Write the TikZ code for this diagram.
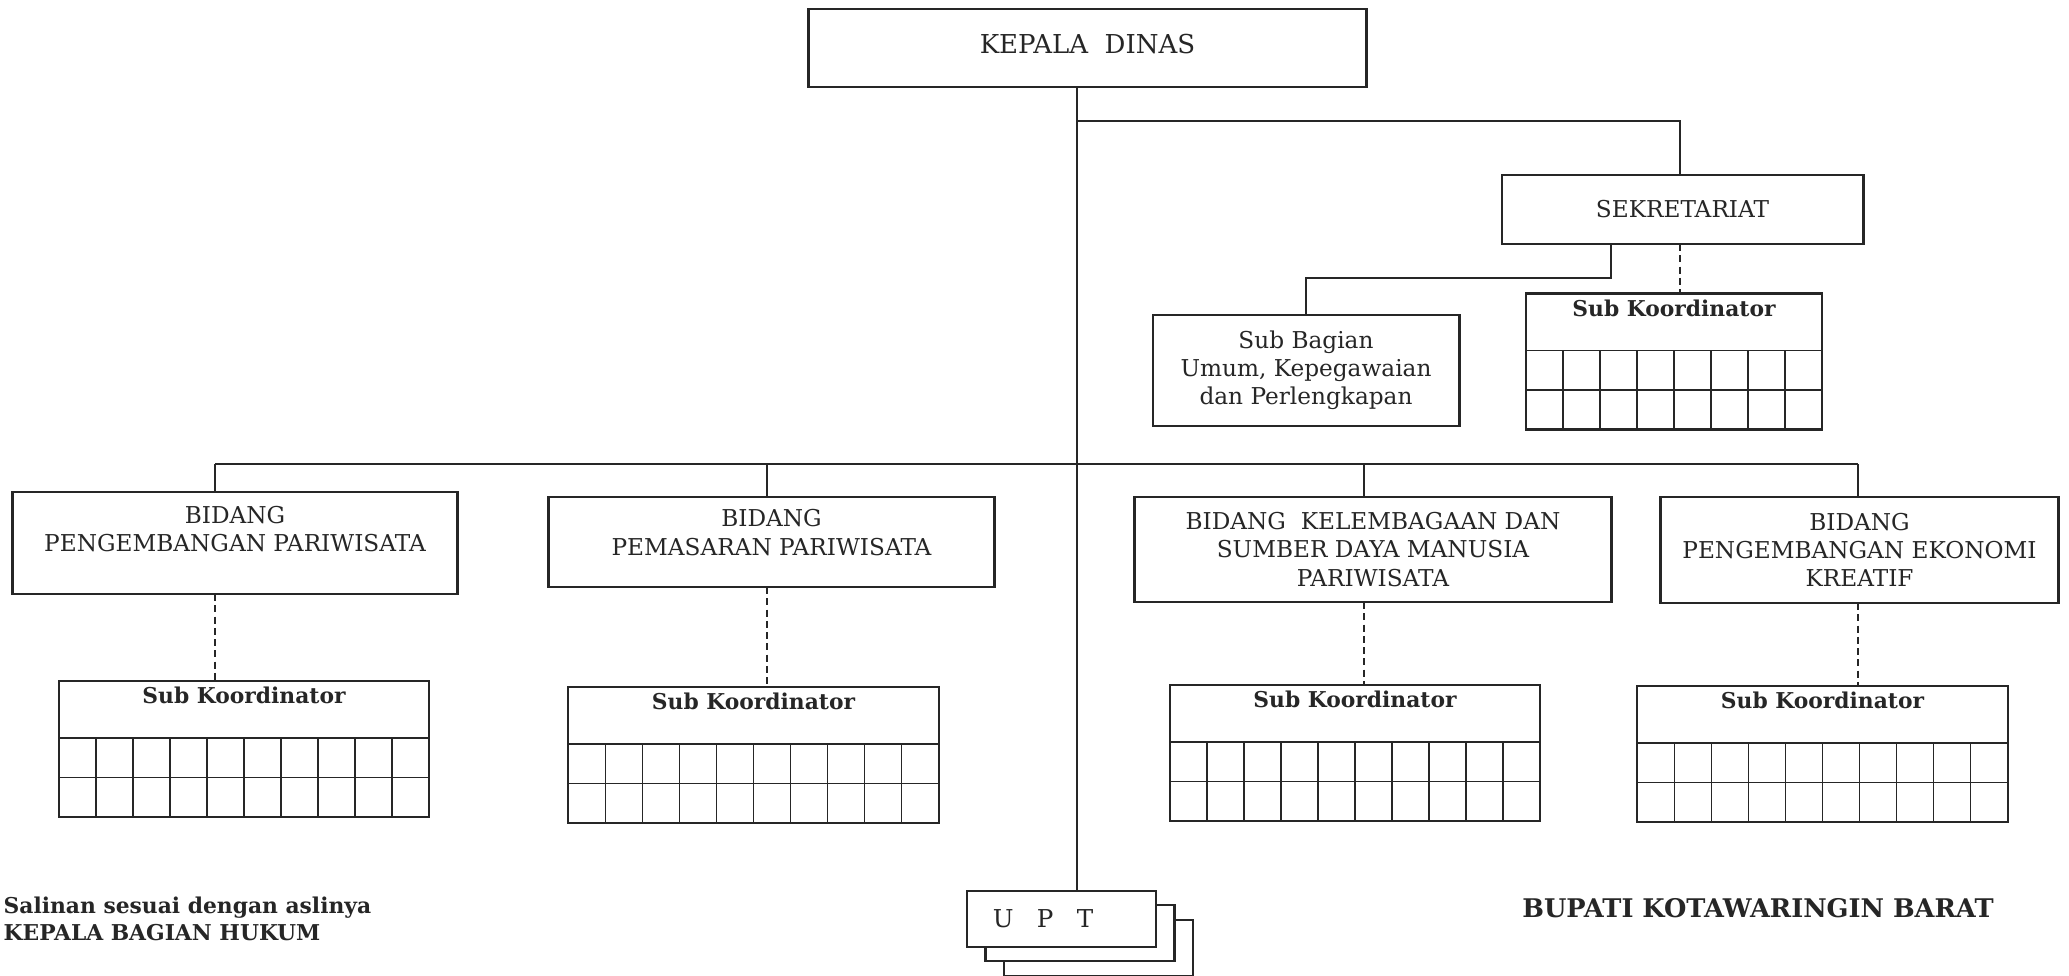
\documentclass[tikz,border=0pt]{standalone}
\usepackage{fontspec}
\setmainfont{DejaVu Serif}
\usetikzlibrary{calc}

\begin{document}
\begin{tikzpicture}[
x=0.01cm, y=-0.01cm,
color=black!85,
box/.style={
draw,
line width=0.8pt,
inner sep=0pt,
outer sep=0pt,
align=center,
font=\fontsize{6.6}{8}\selectfont
},
skbox/.style={
draw,
line width=0.6pt,
outer sep=0pt,
minimum width=3.7cm,
minimum height=1.36cm
},
sklabel/.style={
anchor=north,
inner sep=1.5pt,
font=\bfseries\fontsize{6.2}{7}\selectfont
},
gridline/.style={line width=0.45pt},
link/.style={line width=0.6pt},
dotlink/.style={line width=0.6pt, dash pattern=on 2pt off 1.2pt},
sign/.style={
inner sep=0pt,
align=left,
font=\bfseries\fontsize{6.2}{7.7}\selectfont
}
]

\path[use as bounding box, fill=white] (0,0) rectangle (2069,975);

% top part
\node[box, minimum width=5.57cm, minimum height=0.78cm, text depth=2.3pt,
font=\fontsize{7.4}{9}\selectfont] (kepala)
at (1087.5,48) {KEPALA\ \ DINAS};

\node[box, minimum width=3.61cm, minimum height=0.69cm] (sekre)
at (1682.5,209.5) {SEKRETARIAT};

\node[box, minimum width=3.06cm, minimum height=1.11cm] (subbag)
at (1306,370.5) {Sub Bagian\\Umum, Kepegawaian\\dan Perlengkapan};

\node[skbox, minimum width=2.96cm] (sk0) at (1674,361.5) {};
\node[sklabel] (sk0t) at (sk0.north) {Sub Koordinator};

% bidang
\node[box, minimum width=4.44cm, minimum height=1.02cm] (b1)
at (235,543) {BIDANG\\PENGEMBANGAN PARIWISATA\\ };

\node[box, minimum width=4.45cm, minimum height=0.9cm, text depth=5.5pt] (b2)
at (771.5,542) {BIDANG\\PEMASARAN PARIWISATA};

\node[box, minimum width=4.76cm, minimum height=1.05cm] (b3)
at (1373,549.5) {BIDANG\ \ KELEMBAGAAN DAN\\SUMBER DAYA MANUSIA\\PARIWISATA};

\node[box, minimum width=3.97cm, minimum height=1.06cm] (b4)
at (1859.5,550) {BIDANG\\PENGEMBANGAN EKONOMI\\KREATIF};

\node[skbox] (sk1) at (244,749) {};
\node[sklabel] (sk1t) at (sk1.north) {Sub Koordinator};
\node[skbox] (sk2) at (753.5,755) {};
\node[sklabel] (sk2t) at (sk2.north) {Sub Koordinator};
\node[skbox] (sk3) at (1355,753) {};
\node[sklabel] (sk3t) at (sk3.north) {Sub Koordinator};
\node[skbox] (sk4) at (1822.5,754) {};
\node[sklabel] (sk4t) at (sk4.north) {Sub Koordinator};

\foreach \s/\n in {sk0/8, sk1/10, sk2/10, sk3/10, sk4/10} {
  \draw[gridline] ($(\s.south west)+(0,-79)$) -- ($(\s.south east)+(0,-79)$);
  \draw[gridline] ($(\s.south west)+(0,-39.5)$) -- ($(\s.south east)+(0,-39.5)$);
  \pgfmathtruncatemacro\m{\n-1}
  \foreach \i in {1,...,\m}
    \draw[gridline] ($(\s.south west)!{\i/\n}!(\s.south east)$) -- ++(0,-79);
}

% UPT stack
\node[box, fill=white, minimum width=1.89cm, minimum height=0.56cm] (upt3)
at (1098.5,948) {};
\node[box, fill=white, minimum width=1.89cm, minimum height=0.56cm] (upt2)
at (1080,933) {};
\node[box, fill=white, minimum width=1.89cm, minimum height=0.56cm,
font=\fontsize{7}{8}\selectfont] (upt)
at (1061.5,919) {U\hspace{0.95em}P\hspace{0.95em}T\hspace*{1.5em}};

% lines
\coordinate (trunk) at (1077,121);
\coordinate (c0) at (1680,121);
\coordinate (c6) at (1611,278);
\coordinate (c1) at (215,464);
\coordinate (c2) at (767,464);
\coordinate (c3) at (1364,464);
\coordinate (c4) at (1858,464);

\draw[link] (kepala.south -| trunk) -- (upt.north -| trunk);
\draw[link] (trunk) -- (c0) -- (sekre.north -| c0);
\draw[link] (sekre.south -| c6) -- (c6) -| (subbag.north);
\draw[dotlink] (sekre.south -| c0) -- (sk0.north -| c0);
\draw[link] (c1) -- (c4);
\foreach \c/\b/\s in {c1/b1/sk1, c2/b2/sk2, c3/b3/sk3, c4/b4/sk4} {
  \draw[link] (\c) -- (\b.north -| \c);
  \draw[dotlink] (\b.south -| \c) -- (\s.north -| \c);
}

% signatures
\node[sign, anchor=west] (salinan) at (3,918.5)
{Salinan sesuai dengan aslinya\\KEPALA BAGIAN HUKUM};
\node[sign, font=\bfseries\fontsize{7.3}{9}\selectfont] (bupati)
at (1758,908) {BUPATI KOTAWARINGIN BARAT};

\end{tikzpicture}
\end{document}
